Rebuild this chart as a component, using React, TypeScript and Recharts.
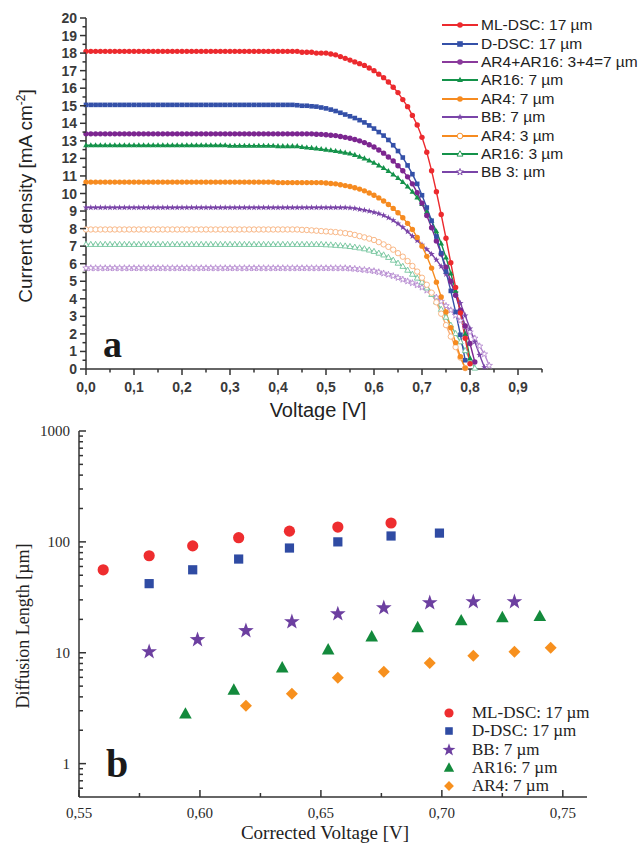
import React from "react"
import { Legend, Line, LineChart, Scatter, ScatterChart, XAxis, YAxis } from "recharts"

// ---- panel a: J-V curves, one value every 10 mV ----
const voltage = [
  0.0, 0.01, 0.02, 0.03, 0.04, 0.05, 0.06, 0.07, 0.08, 0.09,
  0.1, 0.11, 0.12, 0.13, 0.14, 0.15, 0.16, 0.17, 0.18, 0.19,
  0.2, 0.21, 0.22, 0.23, 0.24, 0.25, 0.26, 0.27, 0.28, 0.29,
  0.3, 0.31, 0.32, 0.33, 0.34, 0.35, 0.36, 0.37, 0.38, 0.39,
  0.4, 0.41, 0.42, 0.43, 0.44, 0.45, 0.46, 0.47, 0.48, 0.49,
  0.5, 0.51, 0.52, 0.53, 0.54, 0.55, 0.56, 0.57, 0.58, 0.59,
  0.6, 0.61, 0.62, 0.63, 0.64, 0.65, 0.66, 0.67, 0.68, 0.69,
  0.7, 0.71, 0.72, 0.73, 0.74, 0.75, 0.76, 0.77, 0.78, 0.79,
  0.8, 0.81, 0.82, 0.83, 0.84,
]

const jMlDsc = [
  18.1, 18.1, 18.1, 18.1, 18.1, 18.1, 18.1, 18.1, 18.1, 18.1,
  18.1, 18.1, 18.1, 18.1, 18.1, 18.1, 18.1, 18.1, 18.1, 18.1,
  18.1, 18.1, 18.1, 18.1, 18.1, 18.1, 18.1, 18.1, 18.1, 18.1,
  18.1, 18.1, 18.1, 18.1, 18.1, 18.1, 18.1, 18.1, 18.1, 18.1,
  18.1, 18.1, 18.1, 18.1, 18.1, 18.05, 18.05, 18.05, 18.0, 18.0,
  18.0, 17.95, 17.9, 17.8, 17.7, 17.6, 17.5, 17.4, 17.3, 17.15,
  17.0, 16.8, 16.6, 16.35, 16.05, 15.75, 15.35, 14.95, 14.45, 13.9,
  13.2, 12.35, 11.3, 10.1, 8.8, 7.45, 6.05, 4.65, 3.2, 1.75,
  0.3,
]

const jDDsc = [
  15.05, 15.05, 15.05, 15.05, 15.05, 15.05, 15.05, 15.05, 15.05, 15.05,
  15.05, 15.05, 15.05, 15.05, 15.05, 15.05, 15.05, 15.05, 15.05, 15.05,
  15.05, 15.05, 15.05, 15.05, 15.05, 15.05, 15.05, 15.05, 15.05, 15.05,
  15.05, 15.05, 15.05, 15.05, 15.05, 15.05, 15.05, 15.05, 15.05, 15.05,
  15.05, 15.05, 15.05, 15.05, 15.03, 15.0, 15.0, 14.97, 14.95, 14.9,
  14.85, 14.78, 14.7, 14.6, 14.5, 14.4, 14.3, 14.18, 14.05, 13.88,
  13.7, 13.5, 13.3, 13.05, 12.75, 12.42, 12.05, 11.6, 11.1, 10.55,
  9.9, 9.2, 8.45, 7.55, 6.6, 5.55, 4.45, 3.25, 1.95, 0.5,
]

const jAr4Ar16 = [
  13.4, 13.4, 13.4, 13.4, 13.4, 13.4, 13.4, 13.4, 13.4, 13.4,
  13.4, 13.4, 13.4, 13.4, 13.4, 13.4, 13.4, 13.4, 13.4, 13.4,
  13.4, 13.4, 13.4, 13.4, 13.4, 13.4, 13.4, 13.4, 13.4, 13.4,
  13.4, 13.4, 13.4, 13.4, 13.4, 13.4, 13.4, 13.4, 13.4, 13.4,
  13.4, 13.4, 13.4, 13.4, 13.4, 13.4, 13.4, 13.4, 13.38, 13.37,
  13.35, 13.32, 13.3, 13.25, 13.2, 13.15, 13.08, 13.0, 12.9, 12.78,
  12.65, 12.48, 12.3, 12.08, 11.85, 11.58, 11.3, 10.95, 10.55, 10.05,
  9.45, 8.75, 8.05, 7.3, 6.55, 5.8, 5.0, 4.2, 3.35, 2.45,
  1.45, 0.4,
]

const jAr16 = [
  12.75, 12.75, 12.75, 12.75, 12.75, 12.75, 12.75, 12.75, 12.75, 12.75,
  12.75, 12.75, 12.75, 12.75, 12.75, 12.75, 12.75, 12.75, 12.75, 12.75,
  12.75, 12.75, 12.75, 12.75, 12.75, 12.75, 12.75, 12.75, 12.75, 12.75,
  12.72, 12.72, 12.72, 12.72, 12.72, 12.72, 12.72, 12.72, 12.72, 12.72,
  12.7, 12.7, 12.7, 12.7, 12.7, 12.65, 12.62, 12.6, 12.57, 12.53,
  12.5, 12.46, 12.42, 12.38, 12.33, 12.28, 12.2, 12.1, 12.0, 11.88,
  11.75, 11.6, 11.45, 11.28, 11.08, 10.88, 10.65, 10.4, 10.1, 9.78,
  9.4, 8.95, 8.45, 7.85, 7.15, 6.35, 5.45, 4.45, 3.3, 2.0,
  0.6,
]

const jAr4 = [
  10.65, 10.65, 10.65, 10.65, 10.65, 10.65, 10.65, 10.65, 10.65, 10.65,
  10.65, 10.65, 10.65, 10.65, 10.65, 10.65, 10.65, 10.65, 10.65, 10.65,
  10.65, 10.65, 10.65, 10.65, 10.65, 10.65, 10.65, 10.65, 10.65, 10.65,
  10.65, 10.65, 10.65, 10.65, 10.65, 10.65, 10.65, 10.65, 10.65, 10.65,
  10.62, 10.62, 10.62, 10.62, 10.62, 10.62, 10.62, 10.62, 10.62, 10.62,
  10.6, 10.57, 10.55, 10.5, 10.45, 10.4, 10.33, 10.25, 10.15, 10.03,
  9.9, 9.75, 9.57, 9.37, 9.15, 8.9, 8.62, 8.3, 7.95, 7.5,
  7.0, 6.42, 5.75, 4.95, 4.1, 3.25, 2.35, 1.5, 0.7, 0.05,
]

const jBb = [
  9.2, 9.2, 9.2, 9.2, 9.2, 9.2, 9.2, 9.2, 9.2, 9.2,
  9.2, 9.2, 9.2, 9.2, 9.2, 9.2, 9.2, 9.2, 9.2, 9.2,
  9.2, 9.2, 9.2, 9.2, 9.2, 9.2, 9.2, 9.2, 9.2, 9.2,
  9.2, 9.2, 9.2, 9.2, 9.2, 9.2, 9.2, 9.2, 9.2, 9.2,
  9.2, 9.2, 9.2, 9.2, 9.2, 9.2, 9.2, 9.2, 9.2, 9.2,
  9.2, 9.2, 9.2, 9.2, 9.2, 9.18, 9.15, 9.1, 9.05, 9.0,
  8.93, 8.85, 8.75, 8.62, 8.47, 8.28, 8.07, 7.83, 7.57, 7.32,
  7.08, 6.82, 6.55, 6.22, 5.85, 5.4, 4.9, 4.35, 3.75, 3.05,
  2.3, 1.55, 0.8, 0.1,
]

const jAr4Thin = [
  7.95, 7.95, 7.95, 7.95, 7.95, 7.95, 7.95, 7.95, 7.95, 7.95,
  7.95, 7.95, 7.95, 7.95, 7.95, 7.95, 7.95, 7.95, 7.95, 7.95,
  7.95, 7.95, 7.95, 7.95, 7.95, 7.95, 7.95, 7.95, 7.95, 7.95,
  7.95, 7.95, 7.95, 7.95, 7.95, 7.95, 7.95, 7.95, 7.95, 7.95,
  7.95, 7.95, 7.95, 7.95, 7.95, 7.93, 7.92, 7.9, 7.88, 7.86,
  7.84, 7.82, 7.8, 7.77, 7.74, 7.7, 7.64, 7.57, 7.5, 7.43,
  7.35, 7.23, 7.1, 6.96, 6.8, 6.6, 6.4, 6.15, 5.87, 5.55,
  5.2, 4.8, 4.35, 3.8, 3.15, 2.5, 1.85, 1.25, 0.65, 0.05,
]

const jAr16Thin = [
  7.1, 7.1, 7.1, 7.1, 7.1, 7.1, 7.1, 7.1, 7.1, 7.1,
  7.1, 7.1, 7.1, 7.1, 7.1, 7.1, 7.1, 7.1, 7.1, 7.1,
  7.1, 7.1, 7.1, 7.1, 7.1, 7.1, 7.1, 7.1, 7.1, 7.1,
  7.1, 7.1, 7.1, 7.1, 7.1, 7.1, 7.1, 7.1, 7.1, 7.1,
  7.1, 7.1, 7.1, 7.1, 7.1, 7.1, 7.1, 7.1, 7.1, 7.1,
  7.08, 7.07, 7.05, 7.03, 7.01, 6.98, 6.94, 6.9, 6.85, 6.78,
  6.7, 6.6, 6.5, 6.36, 6.2, 6.03, 5.85, 5.63, 5.4, 5.18,
  4.95, 4.62, 4.25, 3.83, 3.4, 2.95, 2.5, 2.02, 1.55, 1.05,
  0.55, 0.05,
]

const jBbThin = [
  5.75, 5.75, 5.75, 5.75, 5.75, 5.75, 5.75, 5.75, 5.75, 5.75,
  5.75, 5.75, 5.75, 5.75, 5.75, 5.75, 5.75, 5.75, 5.75, 5.75,
  5.75, 5.75, 5.75, 5.75, 5.75, 5.75, 5.75, 5.75, 5.75, 5.75,
  5.75, 5.75, 5.75, 5.75, 5.75, 5.75, 5.75, 5.75, 5.75, 5.75,
  5.75, 5.75, 5.75, 5.75, 5.75, 5.75, 5.75, 5.75, 5.75, 5.75,
  5.75, 5.75, 5.75, 5.75, 5.75, 5.73, 5.71, 5.68, 5.65, 5.62,
  5.58, 5.52, 5.45, 5.38, 5.3, 5.2, 5.1, 5.0, 4.9, 4.78,
  4.65, 4.48, 4.3, 4.08, 3.85, 3.6, 3.35, 3.05, 2.75, 2.43,
  2.1, 1.75, 1.3, 0.85, 0.2,
]

const jvXTicks = [0, 0.05, 0.1, 0.15, 0.2, 0.25, 0.3, 0.35, 0.4, 0.45, 0.5, 0.55, 0.6, 0.65, 0.7, 0.75, 0.8, 0.85, 0.9, 0.95]
const jvYTicks = [
  0, 0.5, 1, 1.5, 2, 2.5, 3, 3.5, 4, 4.5, 5, 5.5, 6, 6.5, 7, 7.5, 8, 8.5, 9, 9.5, 10,
  10.5, 11, 11.5, 12, 12.5, 13, 13.5, 14, 14.5, 15, 15.5, 16, 16.5, 17, 17.5, 18, 18.5, 19, 19.5, 20,
]

// ---- panel b: diffusion length vs corrected voltage ----
const mlVolt = [0.56, 0.579, 0.597, 0.616, 0.637, 0.657, 0.679]
const mlLen = [56, 75, 92, 109, 125, 136, 148]
const ddVolt = [0.579, 0.597, 0.616, 0.637, 0.657, 0.679, 0.699]
const ddLen = [42, 56, 70, 88, 100, 113, 120]
const bbVolt = [0.579, 0.599, 0.619, 0.638, 0.657, 0.676, 0.695, 0.713, 0.73]
const bbLen = [10.2, 13.1, 15.8, 19, 22.4, 25.4, 28.2, 28.8, 28.8]
const ar16Volt = [0.594, 0.614, 0.634, 0.653, 0.671, 0.69, 0.708, 0.725, 0.7405]
const ar16Len = [2.8, 4.6, 7.3, 10.6, 13.9, 16.8, 19.4, 20.7, 21.2]
const ar4Volt = [0.619, 0.638, 0.657, 0.676, 0.695, 0.713, 0.73, 0.745]
const ar4Len = [3.33, 4.27, 5.96, 6.74, 8.1, 9.4, 10.2, 11.1]

const dlXTicks = [0.55, 0.575, 0.6, 0.625, 0.65, 0.675, 0.7, 0.725, 0.75]
const dlYTicks = [
  0.6, 0.7, 0.8, 0.9, 1, 2, 3, 4, 5, 6, 7, 8, 9, 10, 20, 30, 40, 50, 60, 70, 80, 90,
  100, 200, 300, 400, 500, 600, 700, 800, 900, 1000,
]
const dlYLabels = [1, 10, 100, 1000]

type Kind = "circle" | "square" | "triangle" | "diamond" | "star"

const jvSeries = [
  { name: "ML-DSC: 17 µm", values: jMlDsc, color: "#ec2a2e", key: "#ec2a2e", kind: "circle" as Kind, hollow: false },
  { name: "D-DSC: 17 µm", values: jDDsc, color: "#3450a8", key: "#3450a8", kind: "square" as Kind, hollow: false },
  { name: "AR4+AR16: 3+4=7 µm", values: jAr4Ar16, color: "#7c2690", key: "#8a3a9c", kind: "circle" as Kind, hollow: false },
  { name: "AR16: 7 µm", values: jAr16, color: "#14924a", key: "#14924a", kind: "triangle" as Kind, hollow: false },
  { name: "AR4: 7 µm", values: jAr4, color: "#f68b20", key: "#f68b20", kind: "circle" as Kind, hollow: false },
  { name: "BB: 7 µm", values: jBb, color: "#7a45a8", key: "#7a45a8", kind: "star" as Kind, hollow: false },
  { name: "AR4: 3 µm", values: jAr4Thin, color: "#f7b07a", key: "#f68b20", kind: "circle" as Kind, hollow: true },
  { name: "AR16: 3 µm", values: jAr16Thin, color: "#72c49c", key: "#14924a", kind: "triangle" as Kind, hollow: true },
  { name: "BB 3: µm", values: jBbThin, color: "#b68ad0", key: "#7a45a8", kind: "star" as Kind, hollow: true },
]

const dlSeries = [
  { name: "ML-DSC: 17 µm", xs: mlVolt, ys: mlLen, color: "#ee2d2f", kind: "circle" as Kind, r: 5.6 },
  { name: "D-DSC: 17 µm", xs: ddVolt, ys: ddLen, color: "#2f4ba3", kind: "square" as Kind, r: 4.6 },
  { name: "BB: 7 µm", xs: bbVolt, ys: bbLen, color: "#6c3fa0", kind: "star" as Kind, r: 6.6 },
  { name: "AR16: 7 µm", xs: ar16Volt, ys: ar16Len, color: "#138a3c", kind: "triangle" as Kind, r: 6 },
  { name: "AR4: 7 µm", xs: ar4Volt, ys: ar4Len, color: "#f7901e", kind: "diamond" as Kind, r: 6 },
]

const SANS = "'Liberation Sans', Arial, sans-serif"
const SERIF = "'Liberation Serif', 'Times New Roman', serif"
const AXIS = "#333"

function starPoints(cx: number, cy: number, ro: number, ri: number) {
  const pts: string[] = []
  for (let i = 0; i < 10; i++) {
    const a = -Math.PI / 2 + (i * Math.PI) / 5
    const rr = i % 2 === 0 ? ro : ri
    pts.push(`${cx + rr * Math.cos(a)},${cy + rr * Math.sin(a)}`)
  }
  return pts.join(" ")
}

function Marker({ kind, cx, cy, r, color, hollow }: any) {
  const fill = hollow ? "#fff" : color
  const stroke = hollow ? color : "none"
  const sw = hollow ? 0.9 : 0
  if (cx == null || cy == null) return <g />
  switch (kind) {
    case "square":
      return <rect x={cx - r} y={cy - r} width={r * 2} height={r * 2} fill={fill} stroke={stroke} strokeWidth={sw} />
    case "triangle":
      return (
        <polygon
          points={`${cx},${cy - r * 1.15} ${cx + r * 1.05},${cy + r * 0.75} ${cx - r * 1.05},${cy + r * 0.75}`}
          fill={fill}
          stroke={stroke}
          strokeWidth={sw}
        />
      )
    case "diamond":
      return <polygon points={`${cx},${cy - r} ${cx + r},${cy} ${cx},${cy + r} ${cx - r},${cy}`} fill={fill} stroke={stroke} strokeWidth={sw} />
    case "star":
      return <polygon points={starPoints(cx, cy, r * 1.25, r * 0.5)} fill={fill} stroke={stroke} strokeWidth={sw} />
    default:
      return <circle cx={cx} cy={cy} r={r} fill={fill} stroke={stroke} strokeWidth={sw} />
  }
}

const isMultiple = (v: number, step: number) => Math.abs(v / step - Math.round(v / step)) < 1e-6

// panel a ticks point outwards
function JvXTick({ x, y, payload }: any) {
  const major = isMultiple(payload.value, 0.1)
  return (
    <g>
      <line x1={x} x2={x} y1={y} y2={y + (major ? 6 : 3.5)} stroke={AXIS} strokeWidth={1.5} />
      {major && (
        <text x={x} y={y + 23} textAnchor="middle" fontFamily={SANS} fontSize={14} fontWeight="bold" fill="#3a3a3a">
          {payload.value.toFixed(1).replace(".", ",")}
        </text>
      )}
    </g>
  )
}

function JvYTick({ x, y, payload }: any) {
  const major = isMultiple(payload.value, 1)
  return (
    <g>
      <line x1={x} x2={x - (major ? 6 : 3.5)} y1={y} y2={y} stroke={AXIS} strokeWidth={1.5} />
      {major && (
        <text x={x - 9} y={y + 5} textAnchor="end" fontFamily={SANS} fontSize={14} fontWeight="bold" fill="#3a3a3a">
          {payload.value}
        </text>
      )}
    </g>
  )
}

// panel b ticks point inwards
function DlXTick({ x, y, payload }: any) {
  const major = isMultiple(payload.value, 0.05)
  return (
    <g>
      <line x1={x} x2={x} y1={y} y2={y - (major ? 7 : 4)} stroke={AXIS} strokeWidth={1.5} />
      {major && (
        <text x={x} y={y + 21} textAnchor="middle" fontFamily={SERIF} fontSize={15} fill="#2a2a2a">
          {payload.value.toFixed(2).replace(".", ",")}
        </text>
      )}
    </g>
  )
}

function DlYTick({ x, y, payload }: any) {
  const major = dlYLabels.includes(payload.value)
  return (
    <g>
      <line x1={x} x2={x + (major ? 7 : 4)} y1={y} y2={y} stroke={AXIS} strokeWidth={1.5} />
      {major && (
        <text x={x - 9} y={y + 5} textAnchor="end" fontFamily={SERIF} fontSize={15} fill="#2a2a2a">
          {payload.value}
        </text>
      )}
    </g>
  )
}

function JvXTitle() {
  return (
    <g>
      <text x={318} y={417} textAnchor="middle" fontFamily={SANS} fontSize={20} fill="#222">
        Voltage [V]
      </text>
      <text x={103} y={357} fontFamily={SERIF} fontSize={38} fontWeight="bold" fill="#1a1a1a">
        a
      </text>
    </g>
  )
}

function JvYTitle() {
  return (
    <text x={32} y={196} transform="rotate(-90 32 196)" textAnchor="middle" fontFamily={SANS} fontSize={19} fill="#222">
      Current density [mA cm
      <tspan dy={-7} fontSize={12}>
        -2
      </tspan>
      <tspan dy={7}>]</tspan>
    </text>
  )
}

function DlXTitle() {
  return (
    <g>
      <text x={325} y={419} textAnchor="middle" fontFamily={SERIF} fontSize={19} fill="#222">
        Corrected Voltage [V]
      </text>
      <text x={106} y={357} fontFamily={SERIF} fontSize={40} fontWeight="bold" fill="#1a1a1a">
        b
      </text>
    </g>
  )
}

function DlYTitle() {
  return (
    <text x={29} y={206} transform="rotate(-90 29 206)" textAnchor="middle" fontFamily={SERIF} fontSize={18} fill="#222">
      Diffusion Length [µm]
    </text>
  )
}

function JvLegend() {
  return (
    <div style={{ fontFamily: SANS, fontSize: 15.5, color: "#222" }}>
      {jvSeries.map((s) => (
        <div key={s.name} style={{ display: "flex", alignItems: "center", height: 18.4, whiteSpace: "nowrap" }}>
          <svg width={38} height={14} style={{ flex: "none" }}>
            <line x1={1} x2={37} y1={7} y2={7} stroke={s.key} strokeWidth={2.2} />
            <Marker kind={s.kind} cx={19} cy={7} r={2.8} color={s.key} hollow={s.hollow} />
          </svg>
          <span style={{ marginLeft: 2 }}>{s.name}</span>
        </div>
      ))}
    </div>
  )
}

function DlLegend() {
  return (
    <div style={{ fontFamily: SERIF, fontSize: 17, color: "#222" }}>
      {dlSeries.map((s) => (
        <div key={s.name} style={{ display: "flex", alignItems: "center", height: 18.3, whiteSpace: "nowrap" }}>
          <svg width={18} height={16} style={{ flex: "none" }}>
            <Marker kind={s.kind} cx={9} cy={8} r={s.r * 0.82} color={s.color} />
          </svg>
          <span style={{ marginLeft: 14 }}>{s.name}</span>
        </div>
      ))}
    </div>
  )
}

export default function App() {
  const drawOrder = [...jvSeries].reverse()
  return (
    <div style={{ position: "absolute", left: 0, top: 0, width: 640, height: 845, background: "#fff", overflow: "hidden" }}>
      <div style={{ position: "absolute", left: 0, top: 0 }}>
        <LineChart width={640} height={420} margin={{ top: 18, right: 98, bottom: 0, left: 36 }} style={{ overflow: "visible" }}>
          <XAxis
            dataKey="v"
            type="number"
            domain={[0, 0.95]}
            ticks={jvXTicks}
            interval={0}
            tickSize={0}
            tickMargin={0}
            tick={<JvXTick />}
            tickLine={false}
            axisLine={{ stroke: AXIS, strokeWidth: 1.5 }}
            height={51}
            allowDuplicatedCategory={false}
            label={<JvXTitle />}
          />
          <YAxis
            type="number"
            domain={[0, 20]}
            ticks={jvYTicks}
            interval={0}
            tickSize={0}
            tickMargin={0}
            tick={<JvYTick />}
            tickLine={false}
            axisLine={{ stroke: AXIS, strokeWidth: 1.5 }}
            width={50}
            label={<JvYTitle />}
          />
          <Legend
            layout="horizontal"
            verticalAlign="middle"
            align="center"
            content={() => <JvLegend />}
            wrapperStyle={{ position: "absolute", left: 441, top: 16, width: 199, height: 170 }}
          />
          {drawOrder.map((s) => (
            <Line
              key={s.name}
              name={s.name}
              data={s.values.map((j, i) => ({ v: voltage[i], j }))}
              dataKey="j"
              type="linear"
              stroke={s.color}
              strokeWidth={1.4}
              isAnimationActive={false}
              activeDot={false}
              dot={(p: any) => <Marker key={p.index} kind={s.kind} cx={p.cx} cy={p.cy} r={s.kind === "square" ? 2.3 : 2.7} color={s.color} hollow={s.hollow} />}
            />
          ))}
        </LineChart>
      </div>
      <div style={{ position: "absolute", left: 0, top: 420 }}>
        <ScatterChart width={640} height={425} margin={{ top: 11, right: 53, bottom: 0, left: 29 }}>
          <XAxis
            dataKey="x"
            type="number"
            domain={[0.55, 0.76]}
            ticks={dlXTicks}
            interval={0}
            tickSize={0}
            tickMargin={0}
            tick={<DlXTick />}
            tickLine={false}
            axisLine={{ stroke: AXIS, strokeWidth: 1.5 }}
            height={48}
            label={<DlXTitle />}
          />
          <YAxis
            dataKey="y"
            type="number"
            scale="log"
            domain={[0.5, 1000]}
            allowDataOverflow
            ticks={dlYTicks}
            interval={0}
            tickSize={0}
            tickMargin={0}
            tick={<DlYTick />}
            tickLine={false}
            axisLine={{ stroke: AXIS, strokeWidth: 1.5 }}
            width={50}
            label={<DlYTitle />}
          />
          <Legend
            layout="horizontal"
            verticalAlign="middle"
            align="center"
            content={() => <DlLegend />}
            wrapperStyle={{ position: "absolute", left: 440, top: 284, width: 200, height: 95 }}
          />
          {dlSeries.map((s) => (
            <Scatter
              key={s.name}
              name={s.name}
              data={s.xs.map((x, i) => ({ x, y: s.ys[i] }))}
              isAnimationActive={false}
              shape={(p: any) => <Marker kind={s.kind} cx={p.cx} cy={p.cy} r={s.r} color={s.color} />}
            />
          ))}
        </ScatterChart>
      </div>
    </div>
  )
}
